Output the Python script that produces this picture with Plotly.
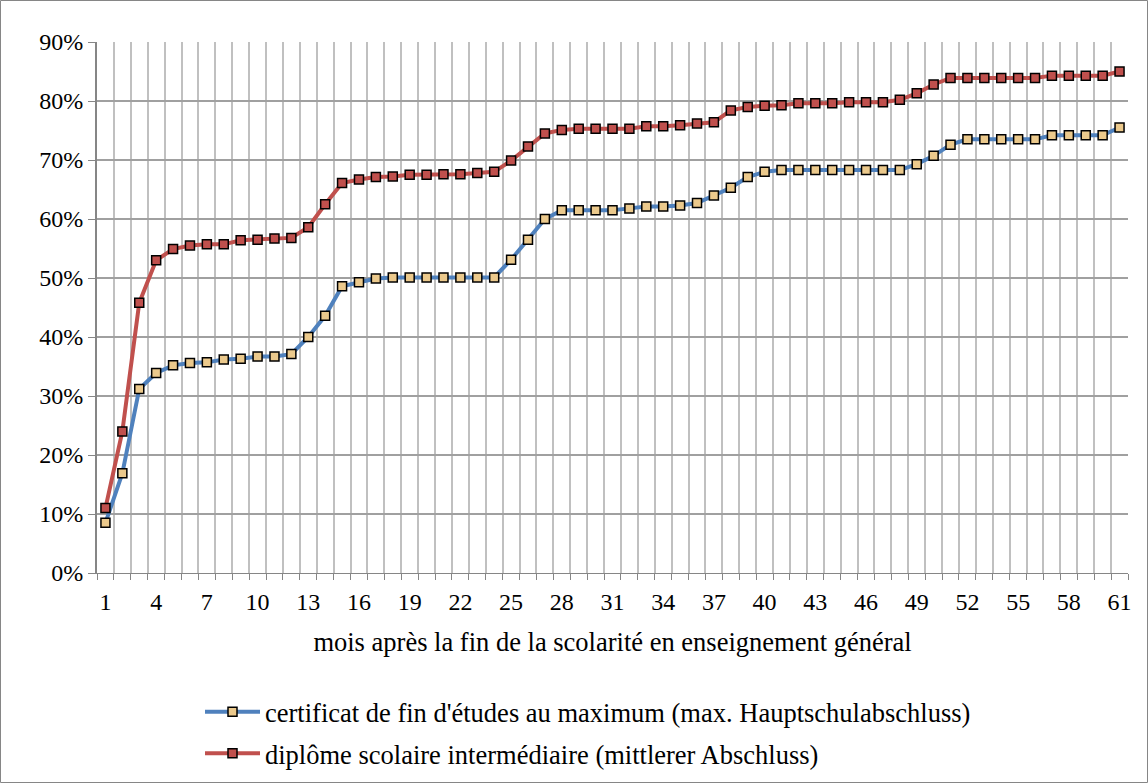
import plotly.graph_objects as go

months = list(range(1, 62))
tick_labels = [str(m) for m in range(1, 62, 3)]

hauptschule = [8.5, 16.9, 31.2, 33.9, 35.2, 35.6, 35.7, 36.2, 36.3, 36.7,
               36.7, 37.1, 40.0, 43.6, 48.6, 49.3, 49.9, 50.1, 50.1, 50.1,
               50.1, 50.1, 50.1, 50.1, 53.1, 56.5, 60.0, 61.5, 61.5, 61.5,
               61.5, 61.8, 62.1, 62.1, 62.3, 62.7, 64.0, 65.3, 67.1, 68.0,
               68.3, 68.3, 68.3, 68.3, 68.3, 68.3, 68.3, 68.3, 69.3, 70.7,
               72.6, 73.5, 73.5, 73.5, 73.5, 73.5, 74.2, 74.2, 74.2, 74.2,
               75.5]

mittlerer = [11.0, 24.0, 45.8, 53.0, 54.9, 55.5, 55.7, 55.7, 56.4, 56.5,
             56.7, 56.8, 58.6, 62.5, 66.1, 66.7, 67.1, 67.2, 67.5, 67.5,
             67.6, 67.6, 67.8, 68.0, 69.9, 72.3, 74.5, 75.1, 75.3, 75.3,
             75.3, 75.3, 75.7, 75.7, 75.9, 76.2, 76.4, 78.4, 79.0, 79.2,
             79.3, 79.6, 79.6, 79.6, 79.8, 79.8, 79.8, 80.2, 81.3, 82.8,
             83.9, 83.9, 83.9, 83.9, 83.9, 83.9, 84.3, 84.3, 84.3, 84.3,
             85.0]

name_h = "certificat de fin d'études au maximum (max. Hauptschulabschluss)"
name_m = "diplôme scolaire intermédiaire (mittlerer Abschluss)"

FONT = "Liberation Serif"
FS_TICK = 24
FS_TEXT = 26.5

fig = go.Figure()
fig.add_trace(go.Scatter(
    x=months, y=[v / 100 for v in hauptschule], name=name_h, mode="lines+markers",
    legendgroup="a",
    line=dict(color="#4F81BD", width=4),
    marker=dict(symbol="square", size=9, color="#EBC98C",
                line=dict(color="black", width=1.5)),
))
fig.add_trace(go.Scatter(
    x=months, y=[v / 100 for v in mittlerer], name=name_m, mode="lines+markers",
    legendgroup="b",
    line=dict(color="#C0504D", width=4),
    marker=dict(symbol="square", size=9, color="#C0504D",
                line=dict(color="black", width=1.5)),
))

fig.update_xaxes(
    range=[0.5, 61.5],
    tickmode="array", tickvals=list(range(1, 62, 3)), ticktext=tick_labels,
    ticks="outside", ticklen=7, tickcolor="rgba(0,0,0,0)",
    showgrid=False, zeroline=False,
    tickfont=dict(family=FONT, size=FS_TICK, color="black"),
    showline=True, linecolor="#868686", linewidth=1,
    minor=dict(tick0=0.5, dtick=1, showgrid=True, gridcolor="#C0C0C0",
               gridwidth=2, ticks="outside", ticklen=6, tickcolor="#868686"),
    title=dict(text="mois après la fin de la scolarité en enseignement général",
               font=dict(family=FONT, size=FS_TEXT, color="black"), standoff=18),
)
fig.update_yaxes(
    range=[0, 0.9], dtick=0.1, tickformat=".0%",
    showgrid=True, gridcolor="#A0A0A0", gridwidth=2, zeroline=False,
    showline=True, linecolor="#868686", linewidth=2,
    ticks="outside", ticklen=7, tickcolor="#868686",
    tickfont=dict(family=FONT, size=FS_TICK, color="black"),
)

L, T, W, H = 97, 42, 1031, 531
fig.update_layout(
    width=1148, height=783,
    margin=dict(l=L, r=1148 - L - W, t=T, b=783 - T - H, autoexpand=False),
    paper_bgcolor="white", plot_bgcolor="white",
    font=dict(family=FONT, size=FS_TEXT, color="black"),
    showlegend=True,
    legend=dict(x=(200 - L) / W, xanchor="left", y=(T + H - 688) / H, yanchor="top",
                orientation="v", traceorder="grouped", tracegroupgap=4,
                itemwidth=55, font=dict(family=FONT, size=FS_TEXT, color="black"),
                bgcolor="rgba(0,0,0,0)"),
    shapes=[dict(type="rect", xref="paper", yref="paper",
                 x0=(0.5 - L) / W, x1=(1147.5 - L) / W,
                 y0=(T + H - 782.5) / H, y1=(T + H - 0.5) / H,
                 line=dict(color="#868686", width=1), fillcolor="rgba(0,0,0,0)",
                 layer="below")],
)

fig.write_html("out.html", config={"displayModeBar": False},
               post_script="document.body.style.margin='0';document.body.style.overflow='hidden';")
